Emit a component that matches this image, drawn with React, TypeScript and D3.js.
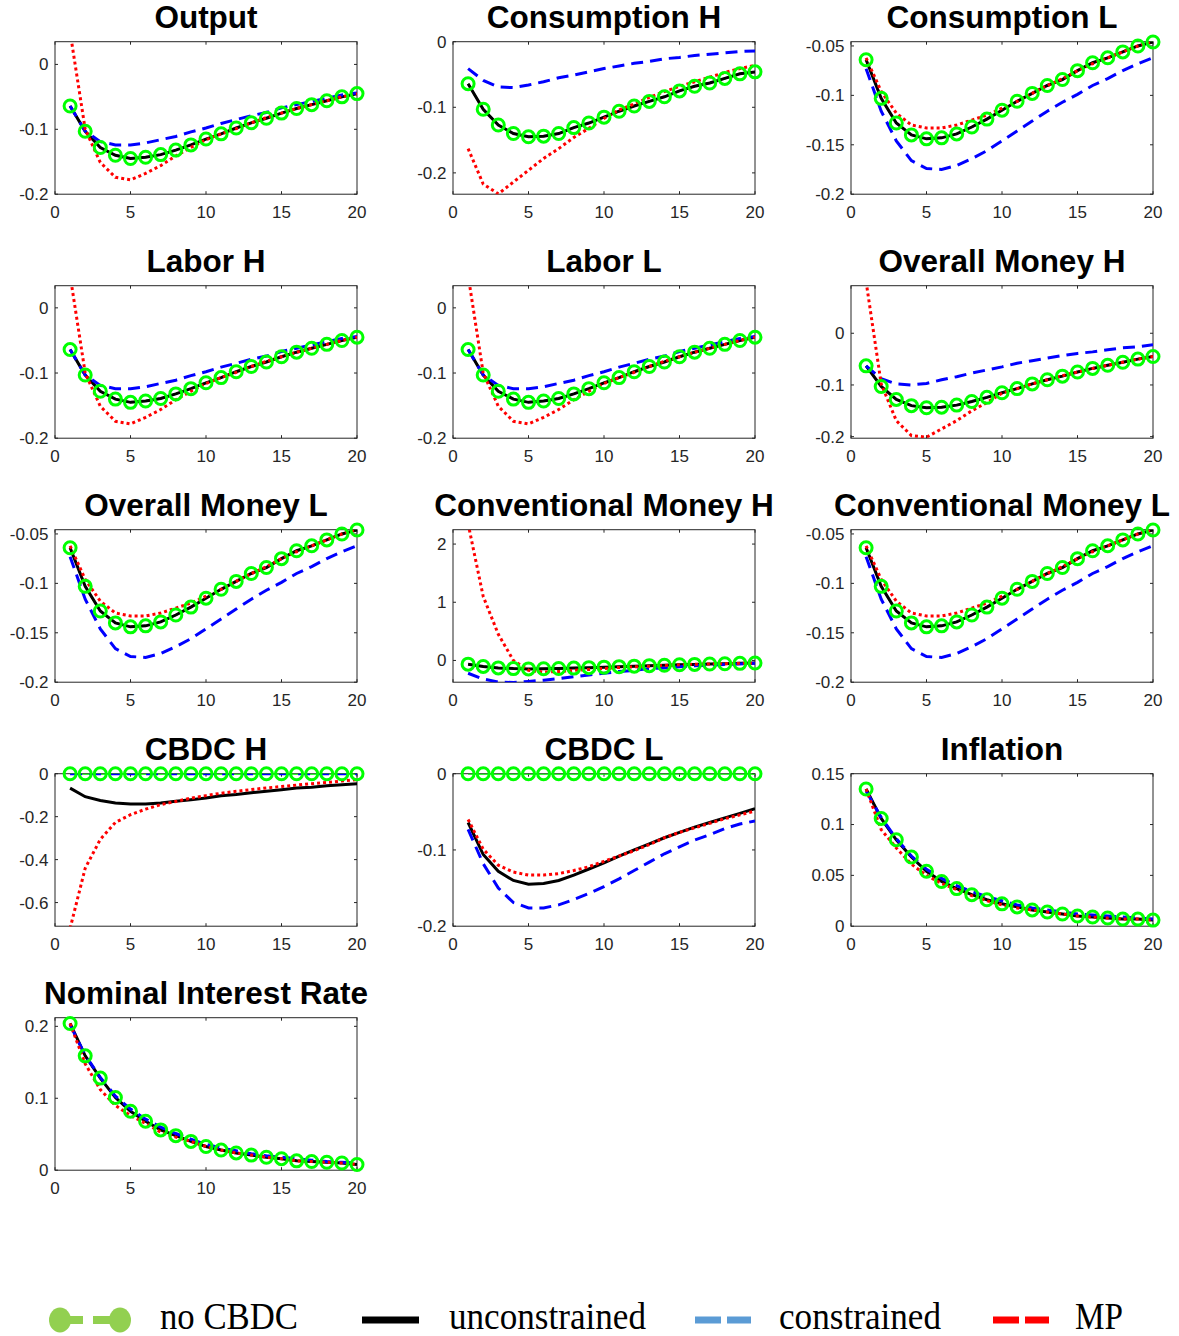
import React from 'react';
import * as d3 from 'd3';

// ---------- DATA ----------
const periods = [1, 2, 3, 4, 5, 6, 7, 8, 9, 10, 11, 12, 13, 14, 15, 16, 17, 18, 19, 20];
const xTicks = [0, 5, 10, 15, 20];

// Output
const outputNoCBDC = [-0.064, -0.103, -0.128, -0.140, -0.145, -0.143, -0.139, -0.132, -0.124, -0.115, -0.107, -0.098, -0.090, -0.083, -0.075, -0.068, -0.062, -0.056, -0.050, -0.045];
const outputUncon = [-0.064, -0.103, -0.128, -0.140, -0.145, -0.143, -0.139, -0.132, -0.124, -0.115, -0.107, -0.098, -0.090, -0.083, -0.075, -0.068, -0.062, -0.056, -0.050, -0.045];
const outputCon = [-0.064, -0.103, -0.119, -0.124, -0.124, -0.121, -0.116, -0.111, -0.104, -0.098, -0.091, -0.085, -0.079, -0.074, -0.067, -0.062, -0.057, -0.052, -0.047, -0.044];
const outputMP = [0.05, -0.100, -0.151, -0.174, -0.178, -0.168, -0.156, -0.141, -0.128, -0.116, -0.107, -0.099, -0.090, -0.082, -0.075, -0.068, -0.062, -0.056, -0.050, -0.045];

// Consumption H
const consHNoCBDC = [-0.064, -0.103, -0.127, -0.140, -0.145, -0.144, -0.140, -0.131, -0.124, -0.115, -0.106, -0.098, -0.091, -0.084, -0.075, -0.068, -0.063, -0.056, -0.049, -0.046];
const consHUncon = [-0.064, -0.103, -0.127, -0.140, -0.145, -0.144, -0.140, -0.131, -0.124, -0.115, -0.106, -0.098, -0.091, -0.084, -0.075, -0.068, -0.063, -0.056, -0.049, -0.046];
const consHCon = [-0.041, -0.059, -0.069, -0.070, -0.066, -0.061, -0.055, -0.051, -0.046, -0.041, -0.037, -0.033, -0.030, -0.026, -0.024, -0.021, -0.019, -0.017, -0.015, -0.014];
const consHMP = [-0.163, -0.217, -0.232, -0.214, -0.196, -0.178, -0.163, -0.146, -0.132, -0.117, -0.104, -0.095, -0.085, -0.076, -0.068, -0.061, -0.054, -0.047, -0.041, -0.036];

// Consumption L
const consLNoCBDC = [-0.064, -0.103, -0.128, -0.140, -0.144, -0.143, -0.139, -0.132, -0.124, -0.115, -0.106, -0.098, -0.090, -0.084, -0.075, -0.067, -0.062, -0.056, -0.050, -0.046];
const consLUncon = [-0.064, -0.103, -0.128, -0.140, -0.144, -0.143, -0.139, -0.132, -0.124, -0.115, -0.106, -0.098, -0.090, -0.084, -0.075, -0.067, -0.062, -0.056, -0.050, -0.046];
const consLCon = [-0.073, -0.116, -0.146, -0.166, -0.174, -0.175, -0.171, -0.164, -0.156, -0.146, -0.136, -0.126, -0.116, -0.107, -0.099, -0.090, -0.083, -0.075, -0.068, -0.062];
const consLMP = [-0.062, -0.096, -0.118, -0.130, -0.133, -0.133, -0.130, -0.125, -0.120, -0.113, -0.106, -0.098, -0.090, -0.083, -0.075, -0.068, -0.062, -0.056, -0.050, -0.045];

// Labor H
const laborHNoCBDC = [-0.064, -0.103, -0.128, -0.140, -0.145, -0.143, -0.139, -0.132, -0.124, -0.115, -0.107, -0.098, -0.090, -0.083, -0.075, -0.068, -0.062, -0.056, -0.050, -0.045];
const laborHUncon = [-0.064, -0.103, -0.128, -0.140, -0.145, -0.143, -0.139, -0.132, -0.124, -0.115, -0.107, -0.098, -0.090, -0.083, -0.075, -0.068, -0.062, -0.056, -0.050, -0.045];
const laborHCon = [-0.064, -0.103, -0.119, -0.124, -0.124, -0.121, -0.116, -0.111, -0.104, -0.098, -0.091, -0.085, -0.079, -0.074, -0.067, -0.062, -0.057, -0.052, -0.047, -0.044];
const laborHMP = [0.05, -0.100, -0.151, -0.174, -0.178, -0.168, -0.156, -0.141, -0.128, -0.116, -0.107, -0.099, -0.090, -0.082, -0.075, -0.068, -0.062, -0.056, -0.050, -0.045];

// Labor L
const laborLNoCBDC = [-0.064, -0.103, -0.128, -0.140, -0.145, -0.143, -0.139, -0.132, -0.124, -0.115, -0.107, -0.098, -0.090, -0.083, -0.075, -0.068, -0.062, -0.056, -0.050, -0.045];
const laborLUncon = [-0.064, -0.103, -0.128, -0.140, -0.145, -0.143, -0.139, -0.132, -0.124, -0.115, -0.107, -0.098, -0.090, -0.083, -0.075, -0.068, -0.062, -0.056, -0.050, -0.045];
const laborLCon = [-0.064, -0.103, -0.119, -0.124, -0.124, -0.121, -0.116, -0.111, -0.104, -0.098, -0.091, -0.085, -0.079, -0.074, -0.067, -0.062, -0.057, -0.052, -0.047, -0.044];
const laborLMP = [0.05, -0.100, -0.151, -0.174, -0.178, -0.168, -0.156, -0.141, -0.128, -0.116, -0.107, -0.099, -0.090, -0.082, -0.075, -0.068, -0.062, -0.056, -0.050, -0.045];

// Overall Money H
const omHNoCBDC = [-0.063, -0.103, -0.128, -0.140, -0.144, -0.143, -0.139, -0.132, -0.124, -0.115, -0.107, -0.098, -0.090, -0.083, -0.075, -0.068, -0.062, -0.056, -0.050, -0.045];
const omHUncon = [-0.063, -0.103, -0.128, -0.140, -0.144, -0.143, -0.139, -0.132, -0.124, -0.115, -0.107, -0.098, -0.090, -0.083, -0.075, -0.068, -0.062, -0.056, -0.050, -0.045];
const omHCon = [-0.063, -0.088, -0.098, -0.100, -0.097, -0.090, -0.084, -0.077, -0.071, -0.065, -0.058, -0.053, -0.048, -0.043, -0.039, -0.036, -0.032, -0.028, -0.026, -0.022];
const omHMP = [0.10, -0.098, -0.169, -0.198, -0.201, -0.185, -0.169, -0.150, -0.134, -0.116, -0.107, -0.098, -0.090, -0.082, -0.075, -0.068, -0.062, -0.056, -0.050, -0.045];

// Overall Money L
const omLNoCBDC = [-0.064, -0.103, -0.128, -0.140, -0.144, -0.143, -0.139, -0.132, -0.124, -0.115, -0.106, -0.098, -0.090, -0.084, -0.075, -0.067, -0.062, -0.056, -0.050, -0.046];
const omLUncon = [-0.064, -0.103, -0.128, -0.140, -0.144, -0.143, -0.139, -0.132, -0.124, -0.115, -0.106, -0.098, -0.090, -0.084, -0.075, -0.067, -0.062, -0.056, -0.050, -0.046];
const omLCon = [-0.073, -0.116, -0.146, -0.166, -0.174, -0.175, -0.171, -0.164, -0.156, -0.146, -0.136, -0.126, -0.116, -0.107, -0.099, -0.090, -0.083, -0.075, -0.068, -0.062];
const omLMP = [-0.062, -0.096, -0.118, -0.130, -0.133, -0.133, -0.130, -0.125, -0.120, -0.113, -0.106, -0.098, -0.090, -0.083, -0.075, -0.068, -0.062, -0.056, -0.050, -0.045];

// Conventional Money H
const cmHNoCBDC = [-0.064, -0.103, -0.128, -0.140, -0.145, -0.143, -0.139, -0.132, -0.124, -0.115, -0.107, -0.098, -0.090, -0.083, -0.075, -0.068, -0.062, -0.056, -0.050, -0.045];
const cmHUncon = [-0.064, -0.103, -0.128, -0.140, -0.145, -0.143, -0.139, -0.132, -0.124, -0.115, -0.107, -0.098, -0.090, -0.083, -0.075, -0.068, -0.062, -0.056, -0.050, -0.045];
const cmHCon = [-0.22, -0.32, -0.37, -0.38, -0.36, -0.34, -0.31, -0.28, -0.25, -0.22, -0.19, -0.17, -0.14, -0.13, -0.11, -0.09, -0.08, -0.07, -0.06, -0.05];
const cmHMP = [2.35, 1.10, 0.45, 0.00, -0.17, -0.20, -0.19, -0.17, -0.155, -0.138, -0.12, -0.11, -0.098, -0.086, -0.075, -0.066, -0.060, -0.055, -0.050, -0.046];

// Conventional Money L
const cmLNoCBDC = [-0.064, -0.103, -0.128, -0.140, -0.144, -0.143, -0.139, -0.132, -0.124, -0.115, -0.106, -0.098, -0.090, -0.084, -0.075, -0.067, -0.062, -0.056, -0.050, -0.046];
const cmLUncon = [-0.064, -0.103, -0.128, -0.140, -0.144, -0.143, -0.139, -0.132, -0.124, -0.115, -0.106, -0.098, -0.090, -0.084, -0.075, -0.067, -0.062, -0.056, -0.050, -0.046];
const cmLCon = [-0.073, -0.116, -0.146, -0.166, -0.174, -0.175, -0.171, -0.164, -0.156, -0.146, -0.136, -0.126, -0.116, -0.107, -0.099, -0.090, -0.083, -0.075, -0.068, -0.062];
const cmLMP = [-0.062, -0.096, -0.118, -0.130, -0.133, -0.133, -0.130, -0.125, -0.120, -0.113, -0.106, -0.098, -0.090, -0.083, -0.075, -0.068, -0.062, -0.056, -0.050, -0.045];

// CBDC H
const cbdcHNoCBDC = [0, 0, 0, 0, 0, 0, 0, 0, 0, 0, 0, 0, 0, 0, 0, 0, 0, 0, 0, 0];
const cbdcHUncon = [-0.067, -0.107, -0.125, -0.136, -0.141, -0.141, -0.136, -0.128, -0.121, -0.113, -0.103, -0.097, -0.089, -0.082, -0.075, -0.067, -0.063, -0.056, -0.052, -0.047];
const cbdcHCon = [0, 0, 0, 0, 0, 0, 0, 0, 0, 0, 0, 0, 0, 0, 0, 0, 0, 0, 0, 0];
const cbdcHMP = [-0.72, -0.44, -0.306, -0.227, -0.191, -0.165, -0.144, -0.129, -0.114, -0.102, -0.091, -0.082, -0.074, -0.066, -0.060, -0.053, -0.047, -0.041, -0.034, -0.028];

// CBDC L
const cbdcLNoCBDC = [0, 0, 0, 0, 0, 0, 0, 0, 0, 0, 0, 0, 0, 0, 0, 0, 0, 0, 0, 0];
const cbdcLUncon = [-0.064, -0.106, -0.128, -0.140, -0.145, -0.144, -0.140, -0.133, -0.125, -0.117, -0.108, -0.100, -0.092, -0.084, -0.077, -0.070, -0.064, -0.058, -0.052, -0.046];
const cbdcLCon = [-0.073, -0.118, -0.150, -0.169, -0.176, -0.176, -0.172, -0.165, -0.157, -0.148, -0.138, -0.127, -0.116, -0.105, -0.096, -0.087, -0.080, -0.072, -0.066, -0.062];
const cbdcLMP = [-0.060, -0.099, -0.120, -0.129, -0.133, -0.133, -0.131, -0.127, -0.122, -0.115, -0.108, -0.101, -0.093, -0.084, -0.077, -0.071, -0.065, -0.059, -0.054, -0.049];

// Inflation
const inflNoCBDC = [0.135, 0.106, 0.085, 0.068, 0.054, 0.044, 0.037, 0.031, 0.026, 0.022, 0.019, 0.016, 0.014, 0.012, 0.010, 0.009, 0.008, 0.007, 0.007, 0.006];
const inflUncon = [0.135, 0.106, 0.085, 0.068, 0.054, 0.044, 0.037, 0.031, 0.026, 0.022, 0.019, 0.016, 0.014, 0.012, 0.010, 0.009, 0.008, 0.007, 0.007, 0.006];
const inflCon = [0.133, 0.107, 0.086, 0.069, 0.056, 0.047, 0.040, 0.034, 0.029, 0.025, 0.021, 0.018, 0.016, 0.014, 0.012, 0.011, 0.010, 0.009, 0.008, 0.007];
const inflMP = [0.135, 0.095, 0.077, 0.061, 0.050, 0.042, 0.036, 0.030, 0.025, 0.021, 0.018, 0.016, 0.014, 0.012, 0.010, 0.009, 0.008, 0.007, 0.007, 0.006];

// Nominal Interest Rate
const nirNoCBDC = [0.204, 0.159, 0.128, 0.101, 0.082, 0.068, 0.056, 0.048, 0.040, 0.033, 0.028, 0.024, 0.021, 0.018, 0.016, 0.013, 0.012, 0.011, 0.010, 0.008];
const nirUncon = [0.204, 0.159, 0.128, 0.101, 0.082, 0.068, 0.056, 0.048, 0.040, 0.033, 0.028, 0.024, 0.021, 0.018, 0.016, 0.013, 0.012, 0.011, 0.010, 0.008];
const nirCon = [0.202, 0.160, 0.129, 0.103, 0.085, 0.071, 0.060, 0.051, 0.043, 0.036, 0.031, 0.027, 0.023, 0.020, 0.018, 0.016, 0.014, 0.012, 0.011, 0.010];
const nirMP = [0.204, 0.148, 0.112, 0.090, 0.076, 0.065, 0.053, 0.046, 0.040, 0.033, 0.028, 0.024, 0.021, 0.018, 0.016, 0.013, 0.012, 0.011, 0.010, 0.008];

const panelTitles = ['Output', 'Consumption H', 'Consumption L', 'Labor H', 'Labor L', 'Overall Money H', 'Overall Money L', 'Conventional Money H', 'Conventional Money L', 'CBDC H', 'CBDC L', 'Inflation', 'Nominal Interest Rate'];
const panelYDomains: [number, number][] = [
  [-0.2, 0.035], [-0.2325, 0], [-0.2, -0.0457],
  [-0.2, 0.034], [-0.2, 0.034], [-0.203, 0.092],
  [-0.2, -0.0457], [-0.374, 2.247], [-0.2, -0.0457],
  [-0.71, 0], [-0.2, 0], [0, 0.15],
  [0, 0.212],
];
const panelYTicks = [
  [-0.2, -0.1, 0], [-0.2, -0.1, 0], [-0.2, -0.15, -0.1, -0.05],
  [-0.2, -0.1, 0], [-0.2, -0.1, 0], [-0.2, -0.1, 0],
  [-0.2, -0.15, -0.1, -0.05], [0, 1, 2], [-0.2, -0.15, -0.1, -0.05],
  [-0.6, -0.4, -0.2, 0], [-0.2, -0.1, 0], [0, 0.05, 0.1, 0.15],
  [0, 0.1, 0.2],
];
const panelSeries = [
  [outputNoCBDC, outputUncon, outputCon, outputMP],
  [consHNoCBDC, consHUncon, consHCon, consHMP],
  [consLNoCBDC, consLUncon, consLCon, consLMP],
  [laborHNoCBDC, laborHUncon, laborHCon, laborHMP],
  [laborLNoCBDC, laborLUncon, laborLCon, laborLMP],
  [omHNoCBDC, omHUncon, omHCon, omHMP],
  [omLNoCBDC, omLUncon, omLCon, omLMP],
  [cmHNoCBDC, cmHUncon, cmHCon, cmHMP],
  [cmLNoCBDC, cmLUncon, cmLCon, cmLMP],
  [cbdcHNoCBDC, cbdcHUncon, cbdcHCon, cbdcHMP],
  [cbdcLNoCBDC, cbdcLUncon, cbdcLCon, cbdcLMP],
  [inflNoCBDC, inflUncon, inflCon, inflMP],
  [nirNoCBDC, nirUncon, nirCon, nirMP],
];

const legendLabels = ['no CBDC', 'unconstrained', 'constrained', 'MP'];

// ---------- LAYOUT ----------
const W = 1179;
const H = 1336;
const colLeft = [55, 453, 851];
const rowTop0 = 41.7;
const rowStep = 244;
const axW = 302;
const axH = 152.5;
const AX_COLOR = '#262626';
const SANS = '"Liberation Sans", Arial, Helvetica, sans-serif';

function Panel({ idx }: { idx: number }) {
  const col = idx % 3;
  const row = Math.floor(idx / 3);
  const left = colLeft[col];
  const top = rowTop0 + row * rowStep;
  const x = d3.scaleLinear().domain([0, 20]).range([left, left + axW]);
  const y = d3.scaleLinear().domain(panelYDomains[idx]).range([top + axH, top]);
  const line = d3
    .line<number>()
    .x((_, i) => x(periods[i]))
    .y((d) => y(d));
  const [g, k, b, r] = panelSeries[idx];
  const clipId = `clip-${idx}`;
  const tl = 3;
  return (
    <g>
      <defs>
        <clipPath id={clipId}>
          <rect x={left} y={top} width={axW} height={axH} />
        </clipPath>
      </defs>
      <text
        x={left + axW / 2}
        y={top - 13.5}
        textAnchor="middle"
        fontFamily={SANS}
        fontWeight="bold"
        fontSize={31.5}
        fill="#000"
      >
        {panelTitles[idx]}
      </text>
      <rect x={left} y={top} width={axW} height={axH} fill="#fff" stroke={AX_COLOR} strokeWidth={1} />
      {xTicks.map((t) => (
        <g key={'x' + t}>
          <line x1={x(t)} x2={x(t)} y1={top + axH} y2={top + axH - tl} stroke={AX_COLOR} />
          <line x1={x(t)} x2={x(t)} y1={top} y2={top + tl} stroke={AX_COLOR} />
          <text
            x={x(t)}
            y={top + axH + 24}
            textAnchor="middle"
            fontFamily={SANS}
            fontSize={17}
            fill={AX_COLOR}
          >
            {String(t)}
          </text>
        </g>
      ))}
      {panelYTicks[idx].map((t) => (
        <g key={'y' + t}>
          <line x1={left} x2={left + tl} y1={y(t)} y2={y(t)} stroke={AX_COLOR} />
          <line x1={left + axW} x2={left + axW - tl} y1={y(t)} y2={y(t)} stroke={AX_COLOR} />
          <text
            x={left - 6.5}
            y={y(t)}
            dy="0.35em"
            textAnchor="end"
            fontFamily={SANS}
            fontSize={17}
            fill={AX_COLOR}
          >
            {String(t)}
          </text>
        </g>
      ))}
      <g clipPath={`url(#${clipId})`}>
        <path d={line(g) || ''} fill="none" stroke="#00ff00" strokeWidth={2} />
        <path d={line(k) || ''} fill="none" stroke="#000" strokeWidth={3} />
        <path d={line(b) || ''} fill="none" stroke="#0000ff" strokeWidth={3} strokeDasharray="12,7" />
        <path d={line(r) || ''} fill="none" stroke="#ff0000" strokeWidth={3} strokeDasharray="3,3" />
      </g>
      {g.map((v, i) => (
        <circle key={i} cx={x(periods[i])} cy={y(v)} r={6} fill="none" stroke="#00ff00" strokeWidth={3} />
      ))}
    </g>
  );
}

function Legend() {
  const cy = 1320;
  const baseY = 1329;
  const fs = 37;
  const serif = '"Liberation Serif", "Times New Roman", serif';
  return (
    <g>
      {/* no CBDC */}
      <rect x={66} y={cy - 4} width={17} height={8} fill="#92D050" />
      <rect x={93} y={cy - 4} width={17} height={8} fill="#92D050" />
      <ellipse cx={60} cy={cy} rx={11} ry={12.5} fill="#92D050" />
      <ellipse cx={120} cy={cy} rx={11} ry={12.5} fill="#92D050" />
      <text x={160} y={baseY} fontFamily={serif} fontSize={fs} textLength={138} lengthAdjust="spacingAndGlyphs">
        {legendLabels[0]}
      </text>
      {/* unconstrained */}
      <rect x={362} y={cy - 3.5} width={57} height={7} fill="#000" />
      <text x={449} y={baseY} fontFamily={serif} fontSize={fs} textLength={197} lengthAdjust="spacingAndGlyphs">
        {legendLabels[1]}
      </text>
      {/* constrained */}
      <rect x={695} y={cy - 3.5} width={26} height={7} fill="#5B9BD5" />
      <rect x={727} y={cy - 3.5} width={24} height={7} fill="#5B9BD5" />
      <text x={779} y={baseY} fontFamily={serif} fontSize={fs} textLength={162} lengthAdjust="spacingAndGlyphs">
        {legendLabels[2]}
      </text>
      {/* MP */}
      <rect x={993} y={cy - 3.5} width={26} height={7} fill="#FF0000" />
      <rect x={1025} y={cy - 3.5} width={24} height={7} fill="#FF0000" />
      <text x={1075} y={baseY} fontFamily={serif} fontSize={fs} textLength={48} lengthAdjust="spacingAndGlyphs">
        {legendLabels[3]}
      </text>
    </g>
  );
}

export default function App() {
  return (
    <svg
      width={W}
      height={H}
      viewBox={`0 0 ${W} ${H}`}
      style={{ position: 'absolute', left: 0, top: 0, display: 'block', background: '#fff' }}
    >
      <rect x={0} y={0} width={W} height={H} fill="#fff" />
      {panelTitles.map((_, i) => (
        <Panel key={i} idx={i} />
      ))}
      <Legend />
    </svg>
  );
}
